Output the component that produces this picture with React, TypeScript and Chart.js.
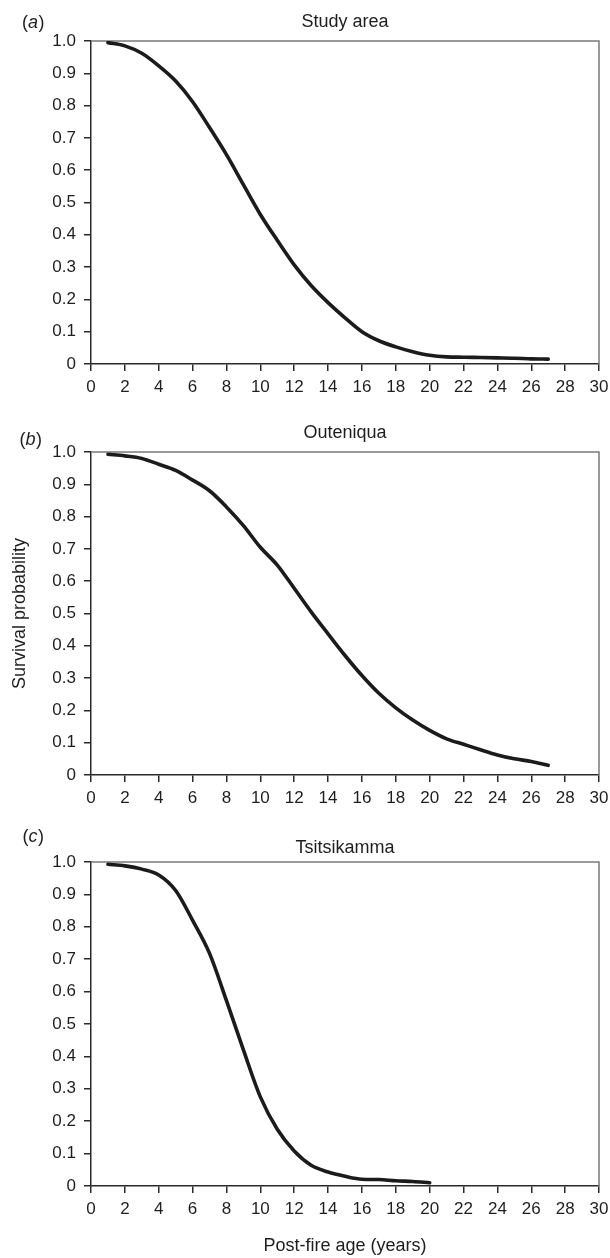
import React, { useEffect, useRef } from "react";
import { Chart, registerables } from "chart.js";

Chart.register(...registerables);

// ---------- data ----------
const studyAreaAges = [1, 2, 3, 4, 5, 6, 7, 8, 9, 10, 11, 12, 13, 14, 15, 16, 17, 18, 19, 20, 21, 22, 23, 24, 25, 26, 27];
const studyAreaSurvival = [0.995, 0.985, 0.962, 0.923, 0.876, 0.812, 0.732, 0.648, 0.555, 0.463, 0.383, 0.307, 0.243, 0.19, 0.143, 0.1, 0.072, 0.053, 0.038, 0.027, 0.022, 0.021, 0.02, 0.019, 0.018, 0.016, 0.015];

const outeniquaAges = [1, 2, 3, 4, 5, 6, 7, 8, 9, 10, 11, 12, 13, 14, 15, 16, 17, 18, 19, 20, 21, 22, 23, 24, 25, 26, 27];
const outeniquaSurvival = [0.993, 0.988, 0.98, 0.962, 0.943, 0.913, 0.88, 0.83, 0.772, 0.705, 0.65, 0.578, 0.505, 0.437, 0.37, 0.308, 0.253, 0.208, 0.17, 0.138, 0.112, 0.095, 0.078, 0.062, 0.05, 0.042, 0.03];

const tsitsikammaAges = [1, 2, 3, 4, 5, 6, 7, 8, 9, 10, 11, 12, 13, 14, 15, 16, 17, 18, 19, 20];
const tsitsikammaSurvival = [0.993, 0.988, 0.978, 0.96, 0.912, 0.82, 0.718, 0.572, 0.42, 0.275, 0.175, 0.108, 0.064, 0.043, 0.03, 0.021, 0.02, 0.016, 0.014, 0.01];

const xTickValues = [0, 2, 4, 6, 8, 10, 12, 14, 16, 18, 20, 22, 24, 26, 28, 30];
const yTickValues = [0, 0.1, 0.2, 0.3, 0.4, 0.5, 0.6, 0.7, 0.8, 0.9, 1.0];
const yTickLabels = ["0", "0.1", "0.2", "0.3", "0.4", "0.5", "0.6", "0.7", "0.8", "0.9", "1.0"];

const panelTitles = ["Study area", "Outeniqua", "Tsitsikamma"];
const panelLetters = ["a", "b", "c"];
const yAxisTitle = "Survival probability";
const xAxisTitle = "Post-fire age (years)";

// ---------- layout (page pixels) ----------
const FONT = '"Liberation Sans", Arial, Helvetica, sans-serif';
const PAGE_W = 610;
const PLOT_LEFT = 91;
const PLOT_RIGHT = 599;

type Panel = {
  ages: number[];
  values: number[];
  title: string;
  letter: string;
  canvasTop: number;
  canvasHeight: number;
  plotTop: number;
  plotBottom: number;
  titleBaseline: number;
  labelBaseline: number;
  labelX: number;
  showYTitle: boolean;
  showXTitle: boolean;
};

const panels: Panel[] = [
  {
    ages: studyAreaAges, values: studyAreaSurvival, title: panelTitles[0], letter: panelLetters[0],
    canvasTop: 0, canvasHeight: 410, plotTop: 41, plotBottom: 364,
    titleBaseline: 27, labelBaseline: 28, labelX: 22, showYTitle: false, showXTitle: false,
  },
  {
    ages: outeniquaAges, values: outeniquaSurvival, title: panelTitles[1], letter: panelLetters[1],
    canvasTop: 410, canvasHeight: 410, plotTop: 452, plotBottom: 775,
    titleBaseline: 437.5, labelBaseline: 444.5, labelX: 19.5, showYTitle: true, showXTitle: false,
  },
  {
    ages: tsitsikammaAges, values: tsitsikammaSurvival, title: panelTitles[2], letter: panelLetters[2],
    canvasTop: 820, canvasHeight: 438, plotTop: 862, plotBottom: 1186,
    titleBaseline: 853, labelBaseline: 842, labelX: 22.5, showYTitle: false, showXTitle: true,
  },
];

const decorPlugin = {
  id: "decor",
  beforeDatasetsDraw(chart: any) {
    const { ctx, chartArea } = chart;
    const { left, right, top, bottom } = chartArea;
    ctx.save();
    ctx.strokeStyle = "#7a7a7a";
    ctx.lineWidth = 1.5;
    ctx.beginPath();
    ctx.moveTo(left, top);
    ctx.lineTo(right, top);
    ctx.lineTo(right, bottom);
    ctx.stroke();
    ctx.restore();
  },
  afterDraw(chart: any, _args: any, opts: any) {
    const { ctx, chartArea } = chart;
    const { left, right } = chartArea;
    ctx.save();
    ctx.fillStyle = "#1e1e1e";
    ctx.textBaseline = "alphabetic";
    ctx.font = `18px ${FONT}`;
    ctx.textAlign = "center";
    ctx.fillText(opts.title, (left + right) / 2, opts.titleY);
    ctx.textAlign = "left";
    let x = opts.labelX;
    ctx.fillText("(", x, opts.labelY);
    x += ctx.measureText("(").width;
    ctx.font = `italic 18px ${FONT}`;
    ctx.fillText(opts.letter, x, opts.labelY);
    x += ctx.measureText(opts.letter).width + 0.5;
    ctx.font = `18px ${FONT}`;
    ctx.fillText(")", x, opts.labelY);
    ctx.restore();
  },
};

function PanelChart({ p }: { p: Panel }) {
  const ref = useRef<HTMLCanvasElement | null>(null);

  useEffect(() => {
    if (!ref.current) return;
    const padTop = p.plotTop - p.canvasTop;
    const xAxisHeight = p.canvasTop + p.canvasHeight - p.plotBottom;
    const chart = new Chart(ref.current, {
      type: "line",
      data: {
        datasets: [
          {
            data: p.ages.map((a, i) => ({ x: a, y: p.values[i] })),
            borderColor: "#1b1b1b",
            borderWidth: 3.6,
            borderCapStyle: "round",
            borderJoinStyle: "round",
            pointRadius: 0,
            cubicInterpolationMode: "monotone",
            fill: false,
          },
        ],
      },
      options: {
        responsive: false,
        animation: false,
        devicePixelRatio: 1,
        layout: { padding: { top: padTop, right: PAGE_W - PLOT_RIGHT, bottom: 0, left: 0 } },
        plugins: {
          legend: { display: false },
          tooltip: { enabled: false },
          title: { display: false },
          decor: {
            title: p.title,
            letter: p.letter,
            titleY: p.titleBaseline - p.canvasTop,
            labelY: p.labelBaseline - p.canvasTop,
            labelX: p.labelX,
          },
        } as any,
        scales: {
          x: {
            type: "linear",
            min: 0,
            max: 30,
            afterBuildTicks: (s: any) => {
              s.ticks = xTickValues.map((v) => ({ value: v }));
            },
            afterFit: (s: any) => {
              s.height = xAxisHeight;
              s.paddingLeft = 0;
              s.paddingRight = 0;
            },
            ticks: {
              autoSkip: false,
              maxRotation: 0,
              padding: 6,
              color: "#1e1e1e",
              font: { size: 17, family: FONT },
              callback: (v: any) => String(v),
            },
            grid: {
              display: true,
              drawOnChartArea: false,
              drawTicks: true,
              tickLength: 7,
              color: "#2a2a2a",
              lineWidth: 1.5,
            },
            border: { display: true, color: "#2a2a2a", width: 1.5 },
            title: {
              display: p.showXTitle,
              text: xAxisTitle,
              color: "#1e1e1e",
              font: { size: 18, family: FONT },
              padding: { top: 0, bottom: 1.5 },
            },
          },
          y: {
            type: "linear",
            min: 0,
            max: 1,
            afterBuildTicks: (s: any) => {
              s.ticks = yTickValues.map((v) => ({ value: v }));
            },
            afterFit: (s: any) => {
              s.width = PLOT_LEFT;
              s.paddingTop = 0;
              s.paddingBottom = 0;
            },
            ticks: {
              autoSkip: false,
              padding: 8,
              color: "#1e1e1e",
              font: { size: 17, family: FONT },
              callback: (_v: any, i: number) => yTickLabels[i],
            },
            grid: {
              display: true,
              drawOnChartArea: false,
              drawTicks: true,
              tickLength: 7,
              color: "#2a2a2a",
              lineWidth: 1.5,
            },
            border: { display: true, color: "#2a2a2a", width: 1.5 },
            title: {
              display: p.showYTitle,
              text: yAxisTitle,
              color: "#1e1e1e",
              font: { size: 18, family: FONT },
              padding: { top: 9, bottom: 0 },
            },
          },
        },
      } as any,
      plugins: [decorPlugin as any],
    });
    return () => chart.destroy();
  }, [p]);

  return (
    <canvas
      ref={ref}
      width={PAGE_W}
      height={p.canvasHeight}
      style={{ position: "absolute", left: 0, top: p.canvasTop, width: PAGE_W, height: p.canvasHeight, display: "block" }}
    />
  );
}

export default function App() {
  return (
    <div style={{ position: "absolute", left: 0, top: 0, width: PAGE_W, height: 1258, background: "#fff" }}>
      {panels.map((p) => (
        <PanelChart key={p.letter} p={p} />
      ))}
    </div>
  );
}
